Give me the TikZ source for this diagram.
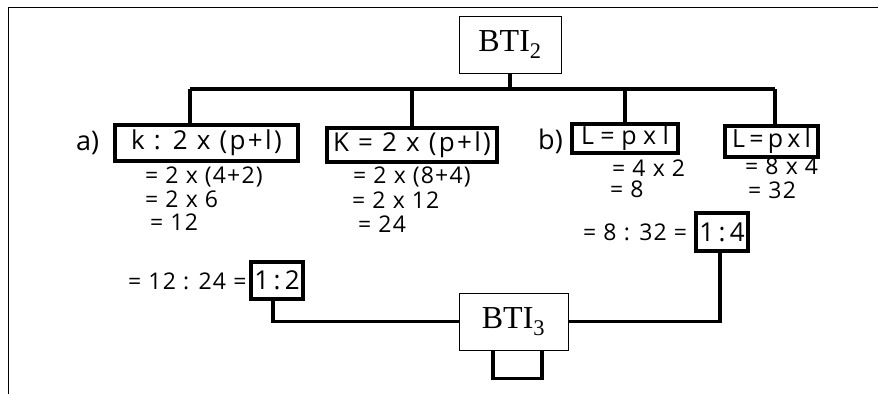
\documentclass[tikz,border=0pt]{standalone}
\usepackage{fontspec}
\setmainfont{Liberation Serif}
\newfontfamily\handfont{Open Sans}
\begin{document}
\begin{tikzpicture}[x=1pt,y=-1pt,
    btibox/.style={draw, line width=0.8pt, fill=white, minimum width=102pt,
      minimum height=57pt, inner sep=0pt, font=\fontsize{32}{32}\selectfont},
    handbox/.style={draw, line width=3.2pt, inner sep=0pt,
      font=\handfont\addfontfeatures{LetterSpace=9}\fontsize{26}{26}\selectfont},
    smallbox/.style={handbox, font=\handfont\fontsize{25}{25}\selectfont},
    ratiobox/.style={handbox, font=\handfont\fontsize{26}{26}\selectfont},
    handtext/.style={anchor=west, inner sep=0pt,
      font=\handfont\addfontfeatures{LetterSpace=5}\fontsize{23}{23}\selectfont},
    bus/.style={line width=3.4pt}]
  \useasboundingbox (0,0) rectangle (878,394);
  % page frame
  \draw[line width=1pt] (8,394) -- (8,7) -- (878,7);

  % top and bottom labels
  \node[btibox] (bti2) at (510,44.5) {BTI\textsubscript{2}};
  \node[btibox, minimum width=109pt] (bti3) at (513.5,321.5) {BTI\textsubscript{3}};

  % boxed formulas
  \node[handbox, minimum width=183pt, minimum height=36pt] (k1) at (206.5,143) {k : 2 x (p+l)};
  \node[handbox, minimum width=170pt, minimum height=34pt] (k2) at (412,145) {K = 2 x (p+l)};
  \node[smallbox, minimum width=106pt, minimum height=29pt] (l1) at (625,138.5) {L = p x l};
  \node[smallbox, minimum width=93pt, minimum height=31pt] (l2) at (771.5,141.5) {L\,=\,p\,x\,l};
  \node[ratiobox, minimum width=52pt, minimum height=37pt] (r1) at (277,280.5) {1\,:\,2};
  \node[ratiobox, minimum width=52pt, minimum height=38pt] (r2) at (722,232) {1\,:\,4};

  % side labels
  \node[handtext, font=\handfont\fontsize{27}{27}\selectfont] (a) at (76,143) {a)};
  \node[handtext, font=\handfont\fontsize{27}{27}\selectfont] (b) at (538,141) {b)};

  % worked steps
  \node[handtext] (k1s1) at (145,177) {= 2 x (4+2)};
  \node[handtext] (k1s2) at (145,199) {= 2 x 6};
  \node[handtext] (k1s3) at (150,222) {= 12};
  \node[handtext] (k1s4) at (128,281) {= 12 : 24 =};
  \node[handtext] (k2s1) at (353,177) {= 2 x (8+4)};
  \node[handtext] (k2s2) at (352,200) {= 2 x 12};
  \node[handtext] (k2s3) at (358,224) {= 24};
  \node[handtext] (l1s1) at (612,168) {= 4 x 2};
  \node[handtext] (l1s2) at (610,189) {= 8};
  \node[handtext] (l1s3) at (583,232) {= 8 : 32 =};
  \node[handtext] (l2s1) at (745,166) {= 8 x 4};
  \node[handtext] (l2s2) at (748,190) {= 32};

  % tree lines
  \coordinate (busL) at (190,89);
  \coordinate (busR) at (775,89);
  \draw[bus] (bti2.south) -- (bti2.south |- busL);
  \draw[bus] (busL) -- (busR);
  \draw[bus] (busL) -- (busL |- k1.north);
  \draw[bus] (k2.north |- busL) -- (k2.north);
  \draw[bus] (l1.north |- busL) -- (l1.north);
  \draw[bus] (busR) -- (busR |- l2.north);
  \draw[bus] ([xshift=-4pt]r1.south) |- (bti3.west);
  \draw[bus] ([xshift=-2pt]r2.south) |- (bti3.east);
  \draw[bus] ([xshift=-20.5pt]bti3.south) -- ++(0,28) -| ([xshift=28.5pt]bti3.south);
\end{tikzpicture}
\end{document}
